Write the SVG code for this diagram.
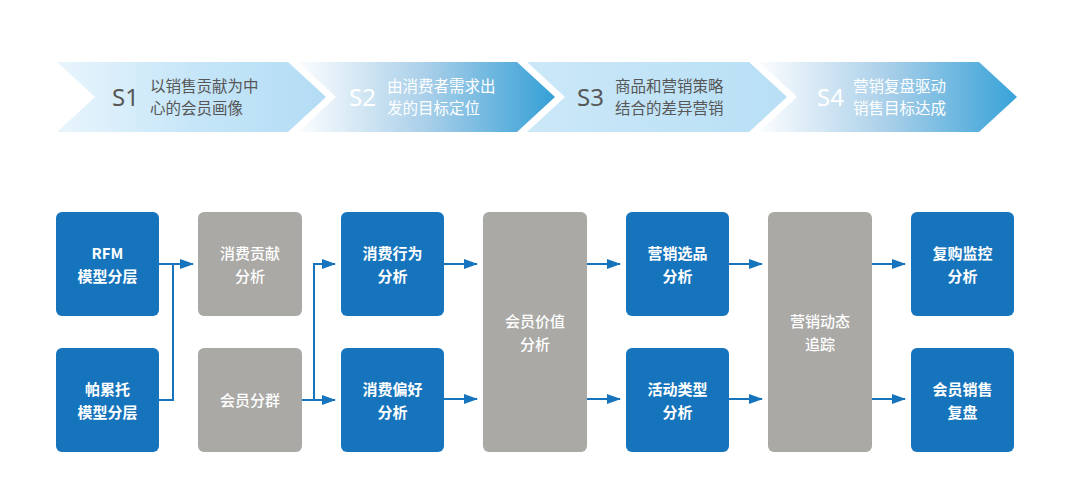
<svg xmlns="http://www.w3.org/2000/svg" width="1080" height="502" viewBox="0 0 1080 502">
<defs>
<linearGradient id="g1" x1="0" y1="0" x2="1" y2="0"><stop offset="0" stop-color="#e9f5fc"/><stop offset="0.5" stop-color="#c6e6f8"/><stop offset="1" stop-color="#b3dcf4"/></linearGradient>
<linearGradient id="g2" x1="0" y1="0" x2="1" y2="0"><stop offset="0" stop-color="#fbfdfe"/><stop offset="0.5" stop-color="#a9cfe9"/><stop offset="1" stop-color="#35a0d6"/></linearGradient>
<linearGradient id="g3" x1="0" y1="0" x2="1" y2="0"><stop offset="0" stop-color="#cbe8f8"/><stop offset="1" stop-color="#b8dff5"/></linearGradient>
<linearGradient id="g4" x1="0" y1="0" x2="1" y2="0"><stop offset="0" stop-color="#fbfdfe"/><stop offset="0.5" stop-color="#a9cfe9"/><stop offset="1" stop-color="#38a3d8"/></linearGradient>
<marker id="arr" markerUnits="userSpaceOnUse" markerWidth="14" markerHeight="10" refX="13" refY="5" orient="auto"><path d="M0,0 L14,5 L0,10 Z" fill="#1674bc"/></marker>
</defs>
<style>
.sn{font-family:"Noto Sans","Noto Sans CJK SC",sans-serif;font-size:24px}
.st{font-family:"Noto Sans CJK SC","Noto Sans",sans-serif;font-size:15.5px}
.dk{fill:#575757}
.wt{fill:#ffffff}
.blue{fill:#1674bc}
.gray{fill:#aaa9a5}
.bt{font-family:"Noto Sans CJK SC","Noto Sans",sans-serif;font-size:15px;fill:#ffffff;text-anchor:middle;font-weight:700}
.gt{font-family:"Noto Sans CJK SC","Noto Sans",sans-serif;font-size:15px;fill:#ffffff;text-anchor:middle;font-weight:500}
.ln{fill:none;stroke:#1674bc;stroke-width:2}
</style>
<rect width="1080" height="502" fill="#ffffff"/>
<g id="stage1">
<polygon points="57,62 288,62 326,97 288,132 57,132 95,97" fill="url(#g1)"/>
<text class="sn dk" x="112" y="106">S1</text>
<text class="st dk" x="150" y="92">以销售贡献为中</text>
<text class="st dk" x="150" y="114">心的会员画像</text>
</g>
<g id="stage2">
<polygon points="298,62 517,62 555,97 517,132 298,132 336,97" fill="url(#g2)"/>
<text class="sn wt" x="349" y="106">S2</text>
<text class="st wt" x="387" y="92">由消费者需求出</text>
<text class="st wt" x="387" y="114">发的目标定位</text>
</g>
<g id="stage3">
<polygon points="527,62 749,62 787,97 749,132 527,132 565,97" fill="url(#g3)"/>
<text class="sn dk" x="577" y="106">S3</text>
<text class="st dk" x="615" y="92">商品和营销策略</text>
<text class="st dk" x="615" y="114">结合的差异营销</text>
</g>
<g id="stage4">
<polygon points="759,62 979,62 1017,97 979,132 759,132 797,97" fill="url(#g4)"/>
<text class="sn wt" x="817" y="106">S4</text>
<text class="st wt" x="853" y="92">营销复盘驱动</text>
<text class="st wt" x="853" y="114">销售目标达成</text>
</g>
<g id="connectors">
<path class="ln" d="M159,400 H173 V264"/>
<path class="ln" d="M159,264 H193" marker-end="url(#arr)"/>
<path class="ln" d="M302,400 H335" marker-end="url(#arr)"/>
<path class="ln" d="M314,400 V264 H335" marker-end="url(#arr)"/>
<path class="ln" d="M444,264 H477" marker-end="url(#arr)"/>
<path class="ln" d="M444,399 H477" marker-end="url(#arr)"/>
<path class="ln" d="M587,264 H620" marker-end="url(#arr)"/>
<path class="ln" d="M587,399 H620" marker-end="url(#arr)"/>
<path class="ln" d="M729,264 H762" marker-end="url(#arr)"/>
<path class="ln" d="M729,399 H762" marker-end="url(#arr)"/>
<path class="ln" d="M872,264 H905" marker-end="url(#arr)"/>
<path class="ln" d="M872,399 H905" marker-end="url(#arr)"/>
</g>
<g id="rfm"><rect class="blue" x="56" y="212" width="103" height="104" rx="6"/><text class="bt" x="107.5" y="259">RFM</text><text class="bt" x="107.5" y="282">模型分层</text></g>
<g id="pareto"><rect class="blue" x="56" y="348" width="103" height="104" rx="6"/><text class="bt" x="107.5" y="395">帕累托</text><text class="bt" x="107.5" y="418">模型分层</text></g>
<g id="contrib"><rect class="gray" x="198" y="212" width="104" height="104" rx="6"/><text class="gt" x="250" y="259">消费贡献</text><text class="gt" x="250" y="282">分析</text></g>
<g id="cluster"><rect class="gray" x="198" y="348" width="104" height="104" rx="6"/><text class="gt" x="250" y="406">会员分群</text></g>
<g id="behavior"><rect class="blue" x="341" y="212" width="103" height="104" rx="6"/><text class="bt" x="392.5" y="259">消费行为</text><text class="bt" x="392.5" y="282">分析</text></g>
<g id="prefer"><rect class="blue" x="341" y="348" width="103" height="104" rx="6"/><text class="bt" x="392.5" y="395">消费偏好</text><text class="bt" x="392.5" y="418">分析</text></g>
<g id="value"><rect class="gray" x="483" y="212" width="104" height="240" rx="6"/><text class="gt" x="535" y="327">会员价值</text><text class="gt" x="535" y="350">分析</text></g>
<g id="select"><rect class="blue" x="626" y="212" width="103" height="104" rx="6"/><text class="bt" x="677.5" y="259">营销选品</text><text class="bt" x="677.5" y="282">分析</text></g>
<g id="activity"><rect class="blue" x="626" y="348" width="103" height="104" rx="6"/><text class="bt" x="677.5" y="395">活动类型</text><text class="bt" x="677.5" y="418">分析</text></g>
<g id="track"><rect class="gray" x="768" y="212" width="104" height="240" rx="6"/><text class="gt" x="820" y="327">营销动态</text><text class="gt" x="820" y="350">追踪</text></g>
<g id="repurchase"><rect class="blue" x="911" y="212" width="103" height="104" rx="6"/><text class="bt" x="962.5" y="259">复购监控</text><text class="bt" x="962.5" y="282">分析</text></g>
<g id="review"><rect class="blue" x="911" y="348" width="103" height="104" rx="6"/><text class="bt" x="962.5" y="395">会员销售</text><text class="bt" x="962.5" y="418">复盘</text></g>
</svg>
